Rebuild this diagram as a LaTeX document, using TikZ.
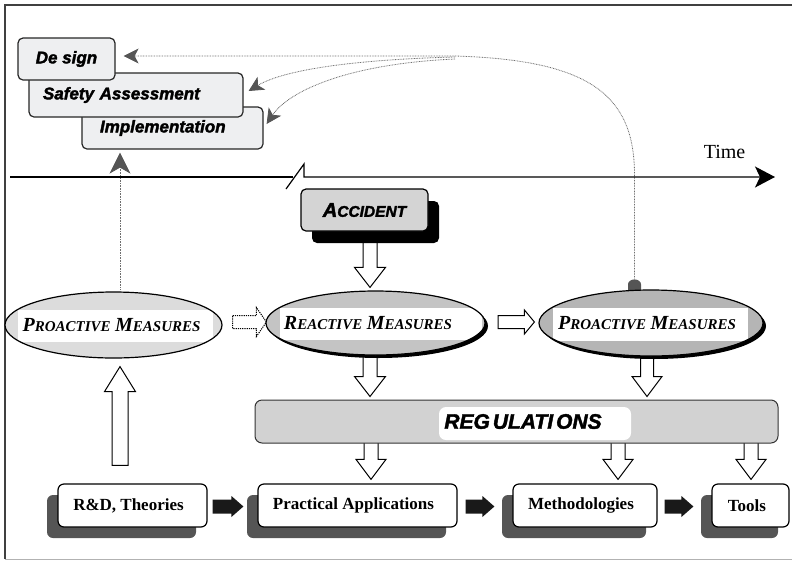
\documentclass[tikz,border=0pt]{standalone}
\usepackage{fontspec}
\setmainfont{Liberation Serif}
\newfontfamily\heavyf[BoldItalicFeatures={FakeBold=2}]{Liberation Sans}
\usetikzlibrary{arrows.meta,calc,shapes.geometric,shadows}
\pgfdeclarelayer{background}
\pgfsetlayers{background,main}
\definecolor{boxgray}{HTML}{EEEFF1}
\definecolor{accgray}{HTML}{D4D4D4}
\definecolor{ellA}{HTML}{DCDCDC}
\definecolor{ellB}{HTML}{C4C4C4}
\definecolor{ellC}{HTML}{B5B5B5}
\definecolor{reggray}{HTML}{D2D2D2}
\definecolor{shad}{HTML}{555555}
\definecolor{tipgray}{HTML}{555555}
\definecolor{dotgray}{HTML}{6E6E6E}
\newcommand\sccap[2]{{\fontsize{20pt}{20pt}\selectfont #1}{\fontsize{15pt}{15pt}\selectfont #2}}
\newcommand\whitepatch[4]{\fill[white] ($(path picture bounding box.center)+(#1,#2)$) rectangle ($(path picture bounding box.center)+(#3,#4)$);}
\newcommand\downarr[6]{\path[#1] let \p1=(#2), \p2=(#3) in (\x1-#4,\y1) -- (\x1-#4,\y2+#6) -- (\x1-#5,\y2+#6) -- (\x1,\y2) -- (\x1+#5,\y2+#6) -- (\x1+#4,\y2+#6) -- (\x1+#4,\y1) -- cycle;}
\newcommand\uparr[6]{\path[#1] let \p1=(#2), \p2=(#3) in (\x1-#4,\y1) -- (\x1-#4,\y2-#6) -- (\x1-#5,\y2-#6) -- (\x1,\y2) -- (\x1+#5,\y2-#6) -- (\x1+#4,\y2-#6) -- (\x1+#4,\y1) -- cycle;}
\newcommand\rightarr[6]{\path[#1] let \p1=(#2), \p2=(#3) in (\x1,\y1+#4) -- (\x2-#6,\y1+#4) -- (\x2-#6,\y1+#5) -- (\x2,\y1) -- (\x2-#6,\y1-#5) -- (\x2-#6,\y1-#4) -- (\x1,\y1-#4) -- cycle;}
\tikzset{
  topbox/.style={draw=black!85, line width=1.2pt, fill=boxgray, rounded corners=5pt, inner sep=0pt,
    font=\heavyf\bfseries\itshape\fontsize{17pt}{17pt}\selectfont},
  ellbase/.style={ellipse, draw=black, line width=1.2pt, inner sep=0pt},
  elltext/.style={font=\bfseries\itshape, inner sep=0pt},
  ellshadow/.style={drop shadow={shadow xshift=3pt, shadow yshift=-3pt, fill=black, opacity=1}},
  botbox/.style={draw=black, line width=1.2pt, fill=white, rounded corners=6pt, minimum height=43pt,
    inner sep=0pt, font=\bfseries\fontsize{17pt}{17pt}\selectfont,
    drop shadow={shadow xshift=-11pt, shadow yshift=-11pt, fill=shad, opacity=1}},
  hollow/.style={draw=black, line width=1pt, fill=white, line join=miter},
  hollowdot/.style={draw=black, line width=1pt, fill=white, dash pattern=on 1.2pt off 1pt},
  solidarr/.style={fill=black!90},
  dotline/.style={draw=dotgray, line width=0.8pt, dash pattern=on 0.8pt off 0.8pt},
  graytip/.style={-{Stealth[length=15pt,width=15pt,inset=4pt,color=tipgray]}},
}
\begin{document}
\begin{tikzpicture}[x=1pt,y=-1pt]
\useasboundingbox (0,0) rectangle (792,560);
% frame
\draw[line width=1.5pt, black!75] (792,5) -- (5,5) -- (5,559);
\draw[line width=1pt, black!30] (5,559) -- (792,559);

% top boxes
\node[topbox, text width=145pt, inner xsep=18pt, align=left, minimum height=42pt] (impl) at (172.5,128) {Implementation};
\node[topbox, text width=186pt, inner xsep=14pt, align=left, minimum height=44pt] (safety) at (136,95) {Safety Assessment};
\node[topbox, minimum width=97pt, minimum height=42pt] (design) at (66.5,59) {De sign};

% time axis
\draw[line width=1.2pt] (10,177) -- (293,177);
\draw[line width=1.2pt, -{Stealth[length=20pt,width=21pt,inset=5pt]}] (286,189) -- (304,164) -- (304,177) -- (775,177);
\node[font=\fontsize{20pt}{20pt}\selectfont, inner sep=0pt] (time) at (724.5,152) {Time};

% accident
\node[draw=black, line width=1.2pt, fill=accgray, rounded corners=5pt, minimum width=127pt, minimum height=42pt,
  inner sep=0pt, font=\heavyf\bfseries\itshape,
  drop shadow={shadow xshift=11pt, shadow yshift=-12pt, fill=black, opacity=1}] (acc) at (364.5,210)
  {{\fontsize{20pt}{20pt}\selectfont A}{\fontsize{15.5pt}{15.5pt}\selectfont CCIDENT}};

% ellipses
\node[ellbase, fill=ellA, minimum width=217pt, minimum height=66pt,
  path picture={\whitepatch{-95.5}{-15}{99.5}{17}},
  label={[elltext, xshift=-2pt]center:\sccap{P}{ROACTIVE}\hspace{4.5pt}\sccap{M}{EASURES}}] (pro1) at (113.5,325) {};
\node[ellbase, ellshadow, fill=ellB, minimum width=219pt, minimum height=64pt,
  path picture={\whitepatch{-95.5}{-15}{106.5}{17}},
  label={[elltext, xshift=-7.5pt]center:\sccap{R}{EACTIVE}\hspace{4.5pt}\sccap{M}{EASURES}}] (react) at (375.5,323) {};
\node[ellbase, ellshadow, fill=ellC, minimum width=224pt, minimum height=66pt,
  path picture={\whitepatch{-98}{-15}{97}{18}},
  label={[elltext, xshift=-4pt]center:\sccap{P}{ROACTIVE}\hspace{4.5pt}\sccap{M}{EASURES}}] (pro2) at (651,323) {};

% regulations
\node[draw=black!80, line width=1pt, fill=reggray, rounded corners=7pt, minimum width=523pt, minimum height=43pt,
  inner sep=0pt, path picture={\whitepatch{-77.5}{-14.5}{114.5}{18.5}},
  font=\heavyf\bfseries\itshape\fontsize{21pt}{21pt}\selectfont] (reg) at (516.5,421.5)
  {\hspace*{13pt}REG\hspace{3pt}ULATI\hspace{3pt}ONS};

% bottom boxes
\node[botbox, minimum width=149pt] (rd) at (132.5,505.5) {\hspace*{-8pt}R\&D, Theories};
\node[botbox, minimum width=199pt] (pa) at (357.5,505.5) {\hspace*{-8pt}Practical Applications};
\node[botbox, minimum width=144pt] (me) at (585,505.5) {\hspace*{-8pt}Methodologies};
\node[botbox, minimum width=77pt] (to) at (750.5,505.5) {\hspace*{-7pt}Tools};

% helper coordinates
\coordinate (bump) at ($(pro2.north)+(-16.5,0)$);
\coordinate (rs1) at ($(reg.south -| pa.north)+(13.5,-4)$);
\coordinate (rs2) at ($(reg.south -| me.north)+(33,-4)$);
\coordinate (rs3) at ($(reg.south -| to.north)+(0.5,-4)$);

\begin{pgfonlayer}{background}
  % bump on the right ellipse
  \fill[tipgray] ($(bump)+(-6.5,3)$) -- ++(0,-8) arc[start angle=180,end angle=0,x radius=6.5pt,y radius=5pt] -- ++(0,8) -- cycle;
  % dotted feedback lines
  \draw[dotline, graytip] ($(bump)+(0,-11)$) -- (634.5,175) .. controls (634.5,95) and (590,60) .. (455,56) -- ($(design.east)+(8,-3)$);
  \draw[dotline, graytip] (455,57) .. controls (340,60) and (280,72) .. ($(safety.east)+(5,-4)$);
  \draw[dotline, graytip] (455,59) .. controls (345,64) and (288,92) .. ($(impl.east)+(3,-4)$);
  \draw[dotline, -{Stealth[length=21pt,width=21pt,inset=6pt,color=tipgray]}] ($(pro1.north)+(6.5,-2)$) -- ($(impl.south -| pro1.north)+(6.5,3)$);
  % hollow arrows
  \downarr{hollow}{$(acc.south)+(5.5,-4)$}{$(react.north)+(0,-3)$}{7pt}{15.5pt}{20pt}
  \downarr{hollow}{$(react.south)+(-5.5,-5)$}{$(reg.north)+(0,-3)$}{7pt}{15.5pt}{20pt}
  \downarr{hollow}{$(pro2.south)+(-4,-5)$}{$(reg.north)+(0,-3)$}{6.5pt}{15pt}{20pt}
  \downarr{hollow}{rs1}{$(pa.north)+(0,-4)$}{7pt}{15pt}{20pt}
  \downarr{hollow}{rs2}{$(me.north)+(0,-4)$}{7pt}{15pt}{20pt}
  \downarr{hollow}{rs3}{$(to.north)+(0,-4)$}{7pt}{15pt}{20pt}
  \uparr{hollow}{$(rd.north)+(-12.5,-18)$}{$(pro1.south)+(0,8)$}{8pt}{15.5pt}{25pt}
  \rightarr{hollowdot}{$(pro1.east)+(10,-3)$}{$(react.west)+(1,0)$}{6.5pt}{14.5pt}{10pt}
  \rightarr{hollow}{$(react.east)+(12.5,-1)$}{$(pro2.west)+(-4,0)$}{6.5pt}{12pt}{10pt}
  % solid arrows
  \rightarr{solidarr}{$(rd.east)+(5,1)$}{$(pa.west)+(-14,0)$}{7pt}{10.5pt}{12pt}
  \rightarr{solidarr}{$(pa.east)+(8,1)$}{$(me.west)+(-18,0)$}{7pt}{10.5pt}{12pt}
  \rightarr{solidarr}{$(me.east)+(7,1)$}{$(to.west)+(-18,0)$}{7pt}{10.5pt}{12pt}
\end{pgfonlayer}
\end{tikzpicture}
\end{document}
